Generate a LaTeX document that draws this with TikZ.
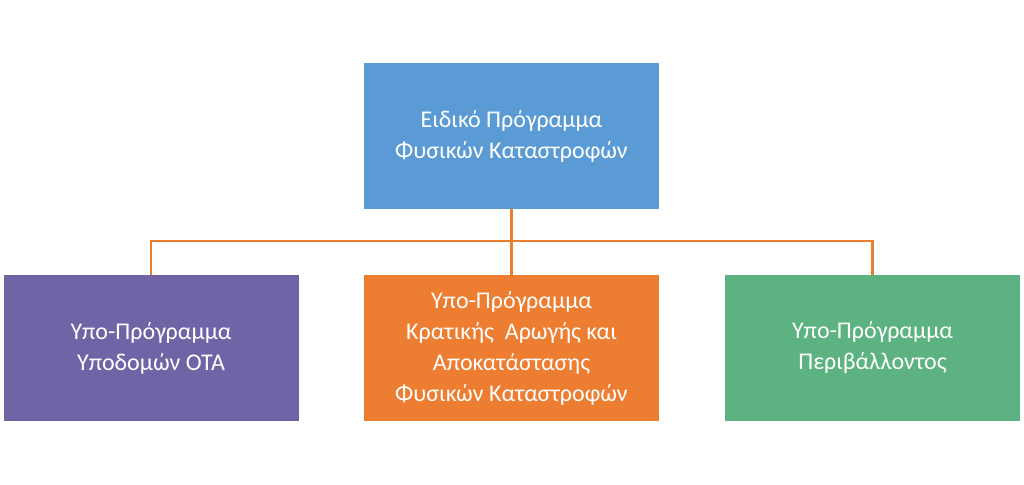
\documentclass[tikz,border=0pt]{standalone}
\usepackage{fontspec}
\setmainfont{Carlito}
\definecolor{cblue}{HTML}{5B9BD5}
\definecolor{cpurple}{HTML}{7063A6}
\definecolor{corange}{HTML}{ED7D31}
\definecolor{cgreen}{HTML}{5CB381}
\begin{document}
\begin{tikzpicture}[x=1pt,y=-1pt,
  box/.style={minimum width=295pt,minimum height=146pt,inner sep=0pt,text=white,align=center,font=\fontsize{24}{31}\selectfont},
  conn/.style={draw=corange,line width=2.2pt}]
\useasboundingbox (0,0) rectangle (1024,484);
\node[box,fill=cblue] (top) at (511.5,136) {Ειδικό Πρόγραμμα\\Φυσικών Καταστροφών};
\node[box,fill=cpurple] (a) at (151,348) {Υπο-Πρόγραμμα\\Υποδομών ΟΤΑ};
\node[box,fill=corange] (b) at (511.5,348) {Υπο-Πρόγραμμα\\Κρατικής\ \ Αρωγής και\\Αποκατάστασης\\Φυσικών Καταστροφών};
\node[box,fill=cgreen] (c) at (872.5,348) {Υπο-Πρόγραμμα\\Περιβάλλοντος};
\coordinate (j) at (511.5,241);
\draw[conn] (top.south) -- (j) -- (b.north);
\draw[conn] (a.north) |- (j) -| (c.north);
\end{tikzpicture}
\end{document}
